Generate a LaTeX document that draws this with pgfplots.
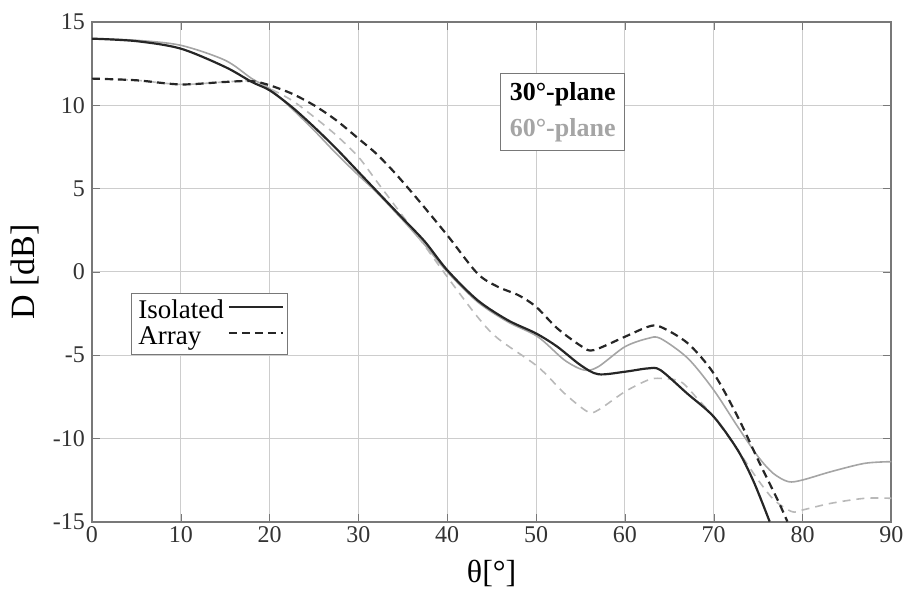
\documentclass[border=0pt]{standalone}
\usepackage{pgfplots}
\pgfplotsset{compat=1.18}
\usepackage{fontspec}
\setmainfont{Liberation Serif}
\definecolor{gridc}{RGB}{205,205,205}
\definecolor{framec}{RGB}{120,120,120}
\definecolor{gsolid}{RGB}{165,165,165}
\definecolor{gdash}{RGB}{185,185,185}
\begin{document}
\begin{tikzpicture}
\begin{axis}[
  scale only axis,
  width=400pt, height=250pt,
  xmin=0, xmax=90, ymin=-15, ymax=15,
  xtick={0,10,...,90}, ytick={-15,-10,...,15},
  grid=major,
  major grid style={color=gridc, line width=0.5pt},
  axis line style={color=framec, line width=0.9pt},
  tick style={color=framec},
  tick align=inside,
  major tick length=4pt,
  /pgf/number format/assume math mode=true,
  ticklabel style={font=\fontsize{12}{14}\selectfont, text=black!80},
  xticklabel style={yshift=1pt},
  xlabel={θ[°]},
  ylabel={D [dB]},
  xlabel style={font=\fontsize{16}{18}\selectfont, yshift=-2pt},
  ylabel style={font=\fontsize{17}{19}\selectfont, yshift=0pt},
  legend plot pos=right,
  legend cell align=left,
  legend style={at={(axis cs:4.4,-1.25)}, anchor=north west, draw=framec,
    fill=white, font=\fontsize{13.5}{14}\selectfont, inner sep=1.5pt, row sep=-1.5pt},
  legend image code/.code={\draw[#1] (0cm,0.07cm) -- (0.95cm,0.07cm);},
]
% 60 deg plane, isolated
\addplot[color=gsolid, line width=0.8pt, smooth, forget plot] coordinates {
(0,14.0) (5,13.9) (10,13.6) (15,12.7) (18,11.6) (20,11.0) (22.5,9.8) (25,8.5)
(27.5,7.1) (30,5.8) (32,4.8) (35,3.1) (37.5,1.6) (40,0.0) (43.4,-1.8) (46.8,-3.0)
(50.2,-3.9) (53.2,-5.3) (55.4,-5.9) (57,-5.7) (60,-4.5) (62.6,-4.0) (64,-4.0)
(67.1,-5.2) (70,-7.1) (72.7,-9.3) (75,-11.1) (76.7,-12.1) (78.4,-12.6) (80,-12.5)
(83.2,-12.0) (87,-11.5) (90,-11.4)};
% 60 deg plane, array
\addplot[color=gdash, line width=0.8pt, dash pattern=on 4pt off 3pt, smooth, forget plot] coordinates {
(0,11.6) (5,11.5) (10,11.25) (15,11.4) (18,11.45) (20,11.0) (22.5,10.3) (25,9.3)
(27.5,8.2) (30,6.9) (32.1,5.4) (34.5,3.7) (36.6,2.2) (40,-0.3) (43.4,-2.7) (45.7,-4.0)
(50.2,-5.7) (53.2,-7.3) (55.8,-8.4) (57,-8.3) (60,-7.2) (62.6,-6.5) (64,-6.4)
(66.3,-6.6) (68.3,-7.7) (70,-8.7) (72.7,-10.7) (75,-12.5) (76.8,-13.7) (78.8,-14.4)
(80,-14.3) (83.2,-13.9) (87,-13.6) (90,-13.6)};
% 30 deg plane, isolated
\addplot[color=black!85, line width=1.1pt, smooth] coordinates {
(0,14.0) (5,13.85) (10,13.4) (15,12.3) (18,11.4) (20,10.9) (22.5,9.9) (25,8.7)
(27.5,7.4) (30,6.0) (32.5,4.6) (35,3.2) (37.5,1.8) (40,0.1) (43.4,-1.7) (46.8,-2.9)
(50,-3.7) (52.4,-4.5) (55,-5.6) (57,-6.15) (60,-6.0) (62.6,-5.8) (64,-5.9)
(67,-7.3) (70,-8.7) (72.7,-10.7) (74.5,-12.6) (76.3,-15)};
\addlegendentry{Isolated}
% 30 deg plane, array
\addplot[color=black!85, line width=1.1pt, dash pattern=on 4pt off 2.5pt, smooth] coordinates {
(0,11.6) (5,11.5) (10,11.25) (15,11.4) (18,11.45) (20,11.2) (22.5,10.7) (25,10.0)
(27.5,9.1) (30,8.0) (32,7.1) (34,6.0) (36.6,4.4) (40,2.2) (43.4,-0.1) (45.7,-0.9)
(48,-1.4) (50,-2.1) (52.4,-3.4) (55.2,-4.5) (56.5,-4.7) (60,-3.9) (62.6,-3.3)
(64,-3.3) (67.1,-4.3) (70,-6.1) (72.7,-8.7) (75,-11.3) (77.2,-13.7) (78.3,-15)};
\addlegendentry{Array}
\node[draw=framec, fill=white, minimum width=62pt, minimum height=39pt,
  align=center, inner sep=2pt, font=\fontsize{13}{18}\selectfont\bfseries]
  at (axis cs:53,9.6) {30°-plane\\\textcolor{gsolid}{60°-plane}};
\end{axis}
\path ([xshift=-46pt,yshift=-35pt]current axis.south west) rectangle ([xshift=9pt,yshift=11pt]current axis.north east);
\end{tikzpicture}
\end{document}
